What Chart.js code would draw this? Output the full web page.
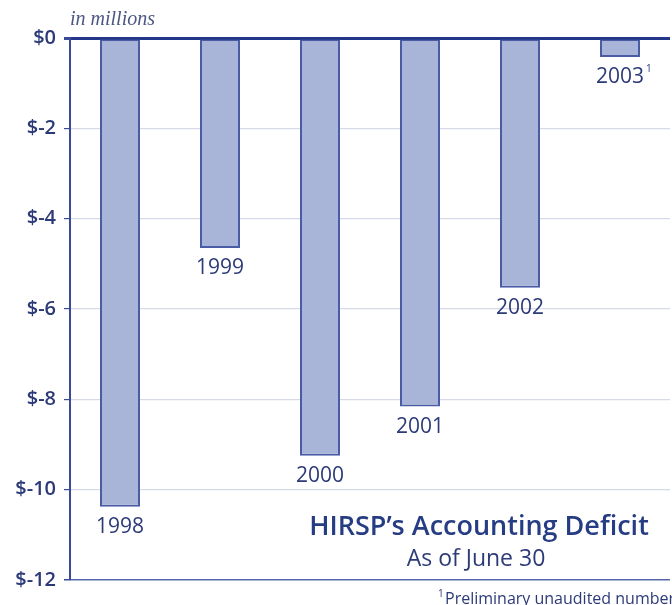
<!DOCTYPE html>
<html>
<head>
<meta charset="utf-8">
<script src="https://cdn.jsdelivr.net/npm/chart.js@4.4.0/dist/chart.umd.min.js"></script>
<style>
  html, body { margin: 0; padding: 0; background: #fff; }
  #wrap { width: 672px; height: 605px; position: relative; }
</style>
</head>
<body>
<div id="wrap"><canvas id="deficitChart"></canvas></div>
<script>
const years = ['1998', '1999', '2000', '2001', '2002', '2003'];
const deficit = [-10.38, -4.65, -9.25, -8.16, -5.53, -0.42];
const footnoteYears = ['2003'];

const navy = '#2c3a78';
const fontFam = '"Open Sans", "Noto Sans", sans-serif';

// year labels under each bar, plus the captions
const labelsPlugin = {
  id: 'labels',
  afterDatasetsDraw(chart) {
    const ctx = chart.ctx;
    const meta = chart.getDatasetMeta(0);
    ctx.save();
    ctx.fillStyle = navy;
    ctx.textBaseline = 'middle';
    meta.data.forEach((bar, i) => {
      const txt = years[i];
      ctx.font = '21px ' + fontFam;
      const w = ctx.measureText(txt).width;
      ctx.textAlign = 'center';
      ctx.fillText(txt, bar.x, bar.y + 20);
      if (footnoteYears.includes(txt)) {
        ctx.font = '10px ' + fontFam;
        ctx.textAlign = 'left';
        ctx.fillText('1', bar.x + w / 2 + 2, bar.y + 12);
      }
    });

    // "in millions"
    ctx.font = 'italic 20px "Liberation Serif", "DejaVu Serif", serif';
    ctx.fillStyle = '#4b5682';
    ctx.textAlign = 'left';
    ctx.textBaseline = 'alphabetic';
    ctx.fillText('in millions', 70, 25);

    // title block
    ctx.textAlign = 'center';
    ctx.fillStyle = '#263d84';
    ctx.font = '600 27px ' + fontFam;
    ctx.fillText('HIRSP\u2019s Accounting Deficit', 479, 535);
    ctx.fillStyle = navy;
    ctx.font = '23px ' + fontFam;
    ctx.fillText('As of June 30', 476, 566);

    // footnote
    ctx.textAlign = 'left';
    ctx.font = '10px ' + fontFam;
    ctx.fillText('1', 438, 597);
    ctx.font = '16px ' + fontFam;
    ctx.fillText('Preliminary unaudited numbers', 445, 604);
    ctx.restore();
  }
};

new Chart(document.getElementById('deficitChart').getContext('2d'), {
  type: 'bar',
  data: {
    labels: years,
    datasets: [{
      data: deficit,
      backgroundColor: '#a9b5d8',
      borderColor: '#4a5ca6',
      borderWidth: 2,
      borderSkipped: false,
      categoryPercentage: 0.4,
      barPercentage: 1
    }]
  },
  options: {
    responsive: true,
    maintainAspectRatio: false,
    animation: false,
    layout: { padding: { top: 38, bottom: 25, right: 2, left: 0 } },
    plugins: {
      legend: { display: false },
      tooltip: { enabled: false }
    },
    scales: {
      x: { display: false },
      y: {
        min: -12,
        max: 0,
        afterFit(scale) { scale.width = 70; },
        ticks: {
          stepSize: 2,
          color: navy,
          padding: 8,
          font: { family: fontFam, size: 20, weight: '600' },
          callback: v => '$' + v
        },
        grid: {
          drawTicks: true,
          tickLength: 6,
          tickColor: '#3a4a96',
          color: ctx => ctx.tick.value === 0 ? '#23368a' : (ctx.tick.value === -12 ? '#5566aa' : '#d6dae8'),
          lineWidth: ctx => ctx.tick.value === 0 ? 3 : (ctx.tick.value === -12 ? 1.5 : 1.2)
        },
        border: { display: true, color: '#3a4a96', width: 2 }
      }
    }
  },
  plugins: [labelsPlugin]
});
</script>
</body>
</html>
